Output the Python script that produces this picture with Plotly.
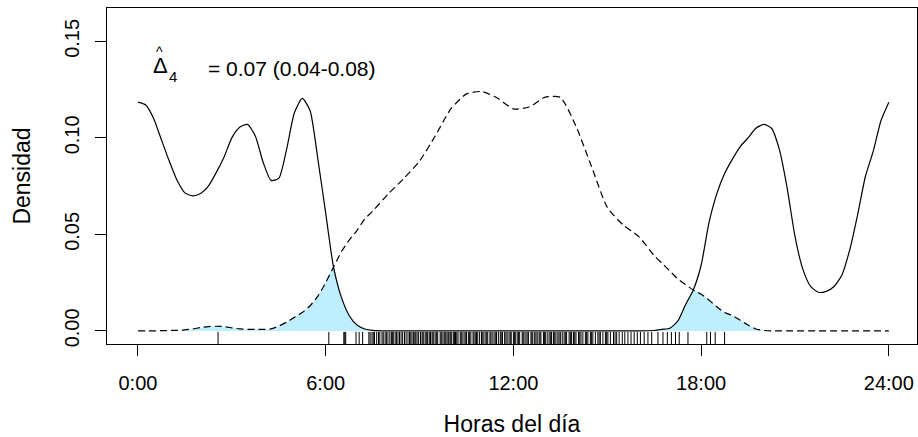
import plotly.graph_objects as go

# Hour grid shared by both density curves
hours = [0, 0.25, 0.5, 0.75, 1.0, 1.25, 1.5, 1.75, 2.0, 2.25, 2.5, 2.75, 3.0, 3.25, 3.5, 3.75,
         4.0, 4.25, 4.5, 4.75, 5.0, 5.25, 5.5, 5.75, 6.0, 6.25, 6.5, 6.75, 7.0, 7.25, 7.5,
         8.0, 8.5, 9.0, 9.5, 10.0, 10.5, 11.0, 11.5, 12.0, 12.5, 13.0, 13.5, 14.0, 14.5, 15.0,
         15.5, 16.0, 16.5, 16.75, 17.0, 17.25, 17.5, 17.75, 18.0, 18.25, 18.5, 18.75, 19.0,
         19.25, 19.5, 19.75, 20.0, 20.25, 20.5, 20.75, 21.0, 21.25, 21.5, 21.75, 22.0, 22.25,
         22.5, 22.75, 23.0, 23.25, 23.5, 23.75, 24.0]

# Solid curve (nocturnal species)
dens_solid = [0.1185, 0.117, 0.110, 0.099, 0.088, 0.078, 0.0715, 0.0700, 0.0712, 0.075, 0.082,
              0.090, 0.100, 0.1055, 0.107, 0.101, 0.0874, 0.078, 0.079, 0.094, 0.113, 0.1205,
              0.1142, 0.089, 0.061, 0.033, 0.0175, 0.008, 0.003, 0.001, 0.0003,
              0.0, 0.0, 0.0, 0.0, 0.0, 0.0, 0.0, 0.0, 0.0, 0.0, 0.0, 0.0, 0.0, 0.0, 0.0,
              0.0, 0.0, 0.0002, 0.0008, 0.0014, 0.005, 0.0135, 0.0212, 0.034, 0.056, 0.071,
              0.0815, 0.089, 0.0955, 0.100, 0.105, 0.107, 0.105, 0.094, 0.074, 0.049, 0.032,
              0.023, 0.020, 0.0205, 0.023, 0.029, 0.042, 0.060, 0.080, 0.093, 0.109, 0.1185]

# Dashed curve (diurnal species)
dens_dashed = [0.0, 0.0, 0.0, 0.0001, 0.0002, 0.0003, 0.0005, 0.001, 0.0017, 0.0022, 0.0024,
               0.0022, 0.0016, 0.001, 0.0008, 0.0008, 0.0008, 0.001, 0.0025, 0.0045, 0.007,
               0.0095, 0.013, 0.018, 0.025, 0.033, 0.041, 0.047, 0.052, 0.058, 0.062,
               0.071, 0.079, 0.088, 0.101, 0.115, 0.1228, 0.124, 0.1205, 0.115, 0.116, 0.121,
               0.121, 0.106, 0.085, 0.064, 0.055, 0.049, 0.039, 0.035, 0.031, 0.027, 0.024,
               0.0212, 0.019, 0.016, 0.0125, 0.0095, 0.0080, 0.0055, 0.003, 0.001, 0.0002,
               0.0, 0.0, 0.0, 0.0, 0.0, 0.0, 0.0, 0.0, 0.0, 0.0, 0.0, 0.0, 0.0, 0.0, 0.0, 0.0]

# Rug: observation times (hours)
rug_times = [2.56, 6.10, 6.58, 6.61, 6.64, 6.97, 7.07, 7.18,
             7.38, 7.42, 7.48, 7.52, 7.56, 7.63, 7.69, 7.73, 7.80, 7.84, 7.90, 7.94, 7.99,
             8.05, 8.10, 8.13, 8.16, 8.22, 8.26, 8.31, 8.36, 8.41, 8.46, 8.52, 8.57, 8.63,
             8.68, 8.72, 8.76, 8.81, 8.85, 8.88, 8.92, 8.97, 9.03, 9.08, 9.11, 9.14, 9.20,
             9.23, 9.26, 9.31, 9.35, 9.40, 9.43, 9.46, 9.52, 9.55, 9.58, 9.66, 9.69, 9.72,
             9.78, 9.81, 9.84, 9.88, 9.92, 9.97, 10.00, 10.03, 10.09, 10.12, 10.15, 10.19,
             10.23, 10.30, 10.33, 10.36, 10.42, 10.46, 10.50, 10.56, 10.60, 10.64, 10.71,
             10.74, 10.78, 10.82, 10.86, 10.92, 10.98, 11.02, 11.06, 11.12, 11.15, 11.18,
             11.25, 11.28, 11.32, 11.38, 11.42, 11.46, 11.52, 11.58, 11.61, 11.65, 11.72,
             11.76, 11.80, 11.86, 11.90, 11.93, 12.00, 12.03, 12.06, 12.12, 12.16, 12.20,
             12.28, 12.31, 12.34, 12.40, 12.44, 12.48, 12.56, 12.59, 12.62, 12.68, 12.72,
             12.76, 12.82, 12.85, 12.88, 12.96, 12.99, 13.02, 13.08, 13.14, 13.18, 13.22,
             13.28, 13.32, 13.36, 13.42, 13.46, 13.50, 13.56, 13.62, 13.66, 13.70, 13.78,
             13.82, 13.86, 13.92, 13.96, 14.00, 14.08, 14.12, 14.16, 14.22, 14.30, 14.34,
             14.38, 14.46, 14.50, 14.54, 14.62, 14.70, 14.74, 14.78, 14.86, 14.94, 14.98,
             15.02, 15.10, 15.20, 15.25, 15.30, 15.38, 15.48, 15.56, 15.66, 15.76, 15.86,
             15.96, 16.06, 16.18, 16.30, 16.42, 16.62, 16.78, 16.92, 17.05, 17.18, 17.30,
             17.58, 18.18, 18.30, 18.45, 18.75]

x_tickvals = [0, 6, 12, 18, 24]
x_ticktext = ["0:00", "6:00", "12:00", "18:00", "24:00"]
y_tickvals = [0.0, 0.05, 0.10, 0.15]

overlap = [min(a, b) for a, b in zip(dens_solid, dens_dashed)]

FONT = "Liberation Sans, Arial, sans-serif"

fig = go.Figure()
fig.add_trace(go.Scatter(x=hours, y=overlap, mode="lines", fill="tozeroy",
                         fillcolor="#BFEFFF", line=dict(width=0, shape="spline", smoothing=0.6),
                         hoverinfo="skip", showlegend=False))
fig.add_trace(go.Scatter(x=hours, y=dens_dashed, mode="lines",
                         line=dict(color="black", width=1.2, dash="7px,4px", shape="spline", smoothing=0.6),
                         showlegend=False))
fig.add_trace(go.Scatter(x=hours, y=dens_solid, mode="lines",
                         line=dict(color="black", width=1.2, shape="spline", smoothing=0.6),
                         showlegend=False))

for t in rug_times:
    fig.add_shape(type="line", xref="x", yref="paper", x0=t, x1=t, y0=0, y1=0.036,
                  line=dict(color="black", width=1))

# Annotation: hat Delta_4
fig.add_annotation(x=2.17, y=0.1357, xref="x", yref="y", text="= 0.07 (0.04-0.08)",
                   showarrow=False, xanchor="left", yanchor="middle",
                   font=dict(family=FONT, size=21, color="black"))
fig.add_annotation(x=0.42, y=0.1373, xref="x", yref="y", text="Δ",
                   showarrow=False, xanchor="left", yanchor="middle",
                   font=dict(family=FONT, size=22, color="black"))
fig.add_annotation(x=0.93, y=0.132, xref="x", yref="y", text="4",
                   showarrow=False, xanchor="left", yanchor="middle",
                   font=dict(family=FONT, size=15, color="black"))
fig.add_annotation(x=0.52, y=0.1443, xref="x", yref="y", text="^",
                   showarrow=False, xanchor="left", yanchor="middle",
                   font=dict(family=FONT, size=14, color="black"))

fig.update_layout(
    width=918, height=437,
    margin=dict(l=107, r=1, t=8, b=93),
    plot_bgcolor="white", paper_bgcolor="white",
    font=dict(family=FONT, size=20, color="black"),
    xaxis=dict(range=[-0.99, 24.9], tickvals=x_tickvals, ticktext=x_ticktext,
               ticks="outside", ticklen=11, tickcolor="black", showline=True,
               linecolor="black", linewidth=1, mirror=True, showgrid=False, zeroline=False,
               automargin=False, tickfont=dict(size=20), ticklabelstandoff=10,
               title=dict(text="Horas del día", standoff=22, font=dict(size=23))),
    yaxis=dict(range=[-0.0068, 0.1673], tickvals=y_tickvals, tickformat=".2f",
               ticks="outside", ticklen=11, tickcolor="black", tickangle=-90,
               showline=True, linecolor="black", linewidth=1, mirror=True,
               showgrid=False, zeroline=False, automargin=False, tickfont=dict(size=20),
               ticklabelstandoff=8,
               title=dict(text="Densidad", standoff=23, font=dict(size=23))),
)

fig.write_html("out.html", config={"displayModeBar": False},
               post_script="document.body.style.margin='0px';")
